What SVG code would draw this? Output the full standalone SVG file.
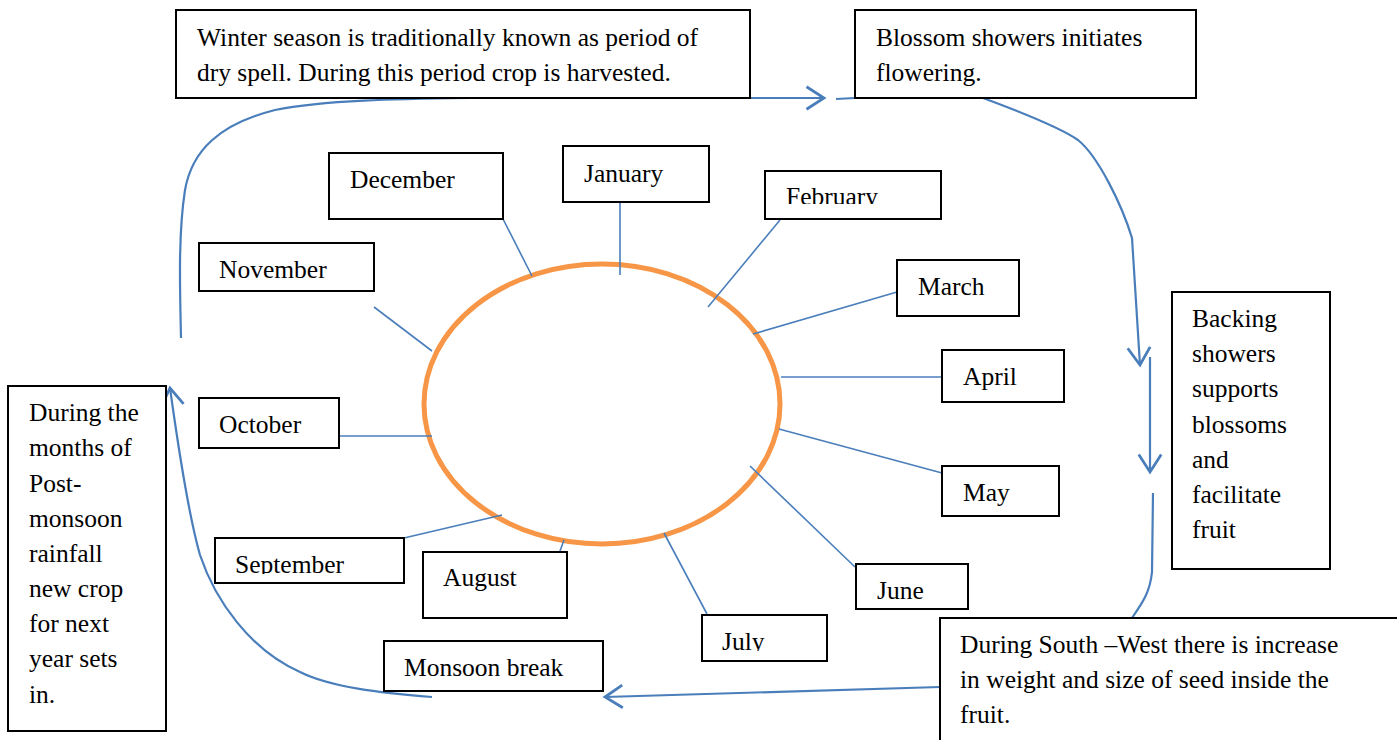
<svg xmlns="http://www.w3.org/2000/svg" width="1397" height="740" viewBox="0 0 1397 740">
  <style>
    .box { fill: #ffffff; stroke: #000000; stroke-width: 2; }
    text { font-family: "Times New Roman", Times, "Liberation Serif", "DejaVu Serif", serif; font-size: 25.5px; fill: #000000; }
    .spoke { fill: none; stroke: #4A7EBB; stroke-width: 1.6; }
    .flow { fill: none; stroke: #4A7EBB; stroke-width: 2.2; }
    .flow-arrow { fill: none; stroke: #4A7EBB; stroke-width: 2.2; marker-end: url(#chevron); }
    .ring { fill: none; stroke: #F79646; stroke-width: 5; }
  </style>
  <defs>
    <marker id="chevron" markerUnits="userSpaceOnUse" markerWidth="30" markerHeight="30" viewBox="-16 -12 20 24" refX="0" refY="0" orient="auto">
      <path d="M -14 -9 L 0 0 L -14 9" fill="none" stroke="#4A7EBB" stroke-width="2.2"/>
    </marker>
    <clipPath id="clip-feb"><rect x="765" y="171" width="176" height="33"/></clipPath>
    <clipPath id="clip-sep"><rect x="215" y="538" width="189" height="36"/></clipPath>
    <clipPath id="clip-jun"><rect x="856" y="564" width="112" height="36"/></clipPath>
    <clipPath id="clip-jul"><rect x="702" y="615" width="125" height="36"/></clipPath>
  </defs>

  <rect width="1397" height="740" fill="#ffffff"/>

  <!-- central year ring -->
  <ellipse id="year-ring" class="ring" cx="602" cy="404" rx="178" ry="140"/>

  <!-- connectors: month spokes and the seasonal cycle arrows -->
  <g id="connectors">
    <line class="spoke" x1="503" y1="219" x2="532" y2="276"/>
    <line class="spoke" x1="620" y1="202" x2="620" y2="275"/>
    <line class="spoke" x1="780" y1="220" x2="708" y2="307"/>
    <line class="spoke" x1="897" y1="292" x2="753" y2="334"/>
    <line class="spoke" x1="942" y1="377" x2="781" y2="377"/>
    <line class="spoke" x1="942" y1="473" x2="779" y2="429"/>
    <line class="spoke" x1="855" y1="567" x2="750" y2="466"/>
    <line class="spoke" x1="707" y1="614" x2="664" y2="533"/>
    <line class="spoke" x1="560" y1="551" x2="564" y2="540"/>
    <line class="spoke" x1="404" y1="538" x2="502" y2="515"/>
    <line class="spoke" x1="339" y1="436" x2="432" y2="436"/>
    <line class="spoke" x1="374" y1="307" x2="432" y2="351"/>

    <!-- winter to blossom -->
    <path class="flow-arrow" d="M 181 338 C 180 290 178 235 185 190 C 192 150 220 124 275 110 C 325 100 400 99 470 98 L 824 98"/>
    <line class="flow" x1="836" y1="99" x2="855" y2="98"/>
    <!-- blossom to backing showers -->
    <path class="flow-arrow" d="M 983 98 C 1010 108 1058 126 1078 140 C 1098 156 1122 205 1132 238 L 1140 365"/>
    <line class="flow-arrow" x1="1150" y1="357" x2="1150" y2="472"/>
    <path class="flow" d="M 1153 493 L 1152 572 C 1150 592 1143 602 1132 618"/>
    <!-- south-west monsoon to monsoon break -->
    <line class="flow-arrow" x1="940" y1="687" x2="605" y2="697"/>
    <!-- monsoon break back to post-monsoon -->
    <path class="flow-arrow" d="M 432 697 C 380 693 330 687 300 672 C 250 650 215 600 200 555 C 190 520 180 460 170 388"/>
  </g>

  <g id="winter">
    <rect class="box" x="176" y="10" width="574" height="88"/>
    <text x="197" y="46">Winter season is traditionally known as period of</text>
    <text x="197" y="81">dry spell. During this period crop is harvested.</text>
  </g>

  <g id="blossom">
    <rect class="box" x="855" y="10" width="341" height="88"/>
    <text x="876" y="46">Blossom showers initiates</text>
    <text x="876" y="81">flowering.</text>
  </g>

  <g id="backing">
    <rect class="box" x="1172" y="292" width="158" height="277"/>
    <text x="1192" y="327">Backing</text>
    <text x="1192" y="362">showers</text>
    <text x="1192" y="397">supports</text>
    <text x="1192" y="433">blossoms</text>
    <text x="1192" y="468">and</text>
    <text x="1192" y="503">facilitate</text>
    <text x="1192" y="538">fruit</text>
  </g>

  <g id="south-west">
    <rect class="box" x="940" y="618" width="470" height="130"/>
    <text x="960" y="653">During South –West there is increase</text>
    <text x="960" y="688">in weight and size of seed inside the</text>
    <text x="960" y="723">fruit.</text>
  </g>

  <g id="post-monsoon">
    <rect class="box" x="8" y="386" width="158" height="345"/>
    <text x="29" y="421">During the</text>
    <text x="29" y="456">months of</text>
    <text x="29" y="492">Post-</text>
    <text x="29" y="527">monsoon</text>
    <text x="29" y="562">rainfall</text>
    <text x="29" y="597">new crop</text>
    <text x="29" y="632">for next</text>
    <text x="29" y="667">year sets</text>
    <text x="29" y="703">in.</text>
  </g>

  <g id="monsoon-break">
    <rect class="box" x="384" y="641" width="219" height="50"/>
    <text x="404" y="676">Monsoon break</text>
  </g>

  <g id="december">
    <rect class="box" x="329" y="153" width="174" height="66"/>
    <text x="350" y="188">December</text>
  </g>
  <g id="january">
    <rect class="box" x="563" y="146" width="146" height="56"/>
    <text x="584" y="182">January</text>
  </g>
  <g id="february">
    <rect class="box" x="765" y="171" width="176" height="48"/>
    <text x="786" y="205" clip-path="url(#clip-feb)">February</text>
  </g>
  <g id="march">
    <rect class="box" x="897" y="260" width="122" height="56"/>
    <text x="918" y="295">March</text>
  </g>
  <g id="april">
    <rect class="box" x="942" y="350" width="122" height="52"/>
    <text x="963" y="385">April</text>
  </g>
  <g id="may">
    <rect class="box" x="942" y="466" width="117" height="50"/>
    <text x="963" y="501">May</text>
  </g>
  <g id="june">
    <rect class="box" x="856" y="564" width="112" height="45"/>
    <text x="877" y="599" clip-path="url(#clip-jun)">June</text>
  </g>
  <g id="july">
    <rect class="box" x="702" y="615" width="125" height="46"/>
    <text x="722" y="650" clip-path="url(#clip-jul)">July</text>
  </g>
  <g id="august">
    <rect class="box" x="423" y="552" width="144" height="66"/>
    <text x="443" y="586">August</text>
  </g>
  <g id="september">
    <rect class="box" x="215" y="538" width="189" height="45"/>
    <text x="235" y="573" clip-path="url(#clip-sep)">September</text>
  </g>
  <g id="october">
    <rect class="box" x="199" y="398" width="140" height="50"/>
    <text x="219" y="433">October</text>
  </g>
  <g id="november">
    <rect class="box" x="199" y="243" width="175" height="48"/>
    <text x="219" y="278">November</text>
  </g>
</svg>
